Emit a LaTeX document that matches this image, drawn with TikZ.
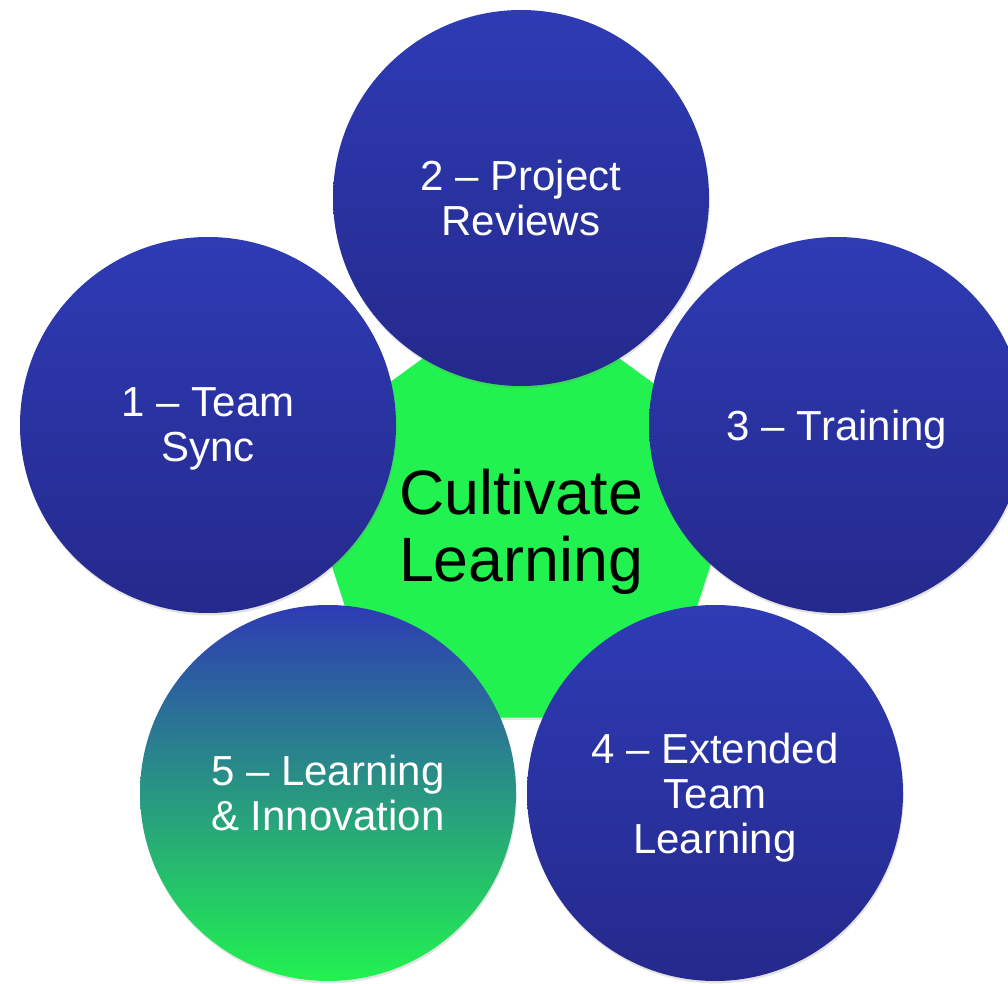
\documentclass[tikz,border=0pt]{standalone}
\usepackage{fontspec}
\setmainfont{Liberation Sans}
\usepackage{tikz}
\usetikzlibrary{shapes.geometric}
\usetikzlibrary{shadows}
\usepackage{xcolor}

\definecolor{hubgreen}{RGB}{34,242,80}
\definecolor{ringtop}{RGB}{46,59,180}
\definecolor{ringbottom}{RGB}{37,41,140}

\tikzset{
    topic/.style={circle, minimum size=282pt, inner sep=0pt,
        top color=ringtop, bottom color=ringbottom,
        text=white, align=center, text depth=0pt,
        font=\fontsize{31.5}{33.75}\selectfont,
        drop shadow={opacity=0.22, shadow xshift=0.6pt, shadow yshift=-1.8pt}},
    hub/.style={regular polygon, regular polygon sides=5, minimum size=357pt,
        inner sep=0pt, fill=hubgreen, text=black, align=center, text depth=0pt,
        font=\fontsize{47}{50}\selectfont,
        drop shadow={opacity=0.22, shadow xshift=0.6pt, shadow yshift=-1.8pt}}
}

\begin{document}
\begin{tikzpicture}[x=0.75pt, y=-0.75pt]
    \useasboundingbox (0,0) rectangle (1008,984);

    % Centre
    \node[hub] (hub) at (521,525) {Cultivate\\Learning};

    % Topics round the centre
    \node[topic] (sync) at (208,425) {1 – Team\\Sync};
    \node[topic] (reviews) at (521,198) {2 – Project\\Reviews};
    \node[topic] (training) at (837,425) {3 – Training};
    \node[topic] (extended) at (715,793) {4 – Extended\\Team\\Learning};
    \node[topic, top color=ringtop, bottom color=hubgreen] (innovation) at (328,793) {5 – Learning\\\& Innovation};
\end{tikzpicture}
\end{document}
